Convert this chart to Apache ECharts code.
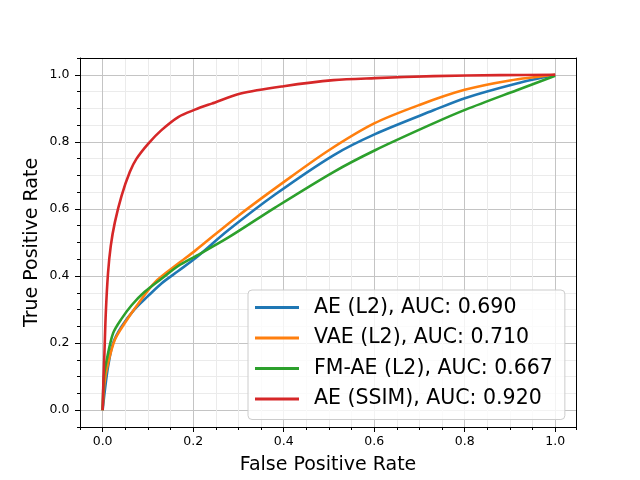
<!DOCTYPE html>
<html>
<head>
    <meta charset="UTF-8">
    <title>ROC curves</title>
    <script src="https://cdn.jsdelivr.net/npm/echarts@6/dist/echarts.min.js"></script>
    <style>
        html, body { margin: 0; padding: 0; background: #fff; }
        #chart { width: 640px; height: 480px; }
    </style>
</head>
<body>
<div id="chart"></div>
<script>
    // ROC points [fpr, tpr]
    var aeL2 = [[0, 0], [0.005, 0.06], [0.012, 0.13], [0.023, 0.2], [0.042, 0.25], [0.07, 0.3],
        [0.1, 0.34], [0.13, 0.378], [0.167, 0.415], [0.204, 0.452], [0.278, 0.537], [0.381, 0.643],
        [0.51, 0.76], [0.602, 0.823], [0.731, 0.894], [0.802, 0.931], [0.915, 0.974], [1, 1]];
    var vaeL2 = [[0, 0], [0.004, 0.08], [0.012, 0.14], [0.027, 0.21], [0.049, 0.26], [0.079, 0.318],
        [0.116, 0.382], [0.167, 0.437], [0.204, 0.475], [0.3, 0.58], [0.4, 0.68], [0.5, 0.775],
        [0.6, 0.855], [0.7, 0.91], [0.8, 0.955], [0.9, 0.983], [1, 1]];
    var fmAeL2 = [[0, 0], [0.003, 0.1], [0.009, 0.15], [0.023, 0.229], [0.042, 0.273], [0.064, 0.313],
        [0.093, 0.353], [0.13, 0.392], [0.167, 0.43], [0.204, 0.458], [0.278, 0.515], [0.381, 0.604],
        [0.51, 0.71], [0.602, 0.775], [0.731, 0.855], [0.802, 0.896], [0.915, 0.954], [1, 0.997]];
    var aeSsim = [[0, 0], [0.002, 0.1], [0.004, 0.17], [0.007, 0.29], [0.012, 0.41], [0.018, 0.49],
        [0.027, 0.56], [0.042, 0.64], [0.06, 0.71], [0.075, 0.75], [0.101, 0.795], [0.13, 0.835],
        [0.167, 0.874], [0.204, 0.896], [0.241, 0.914], [0.305, 0.944], [0.4, 0.966], [0.51, 0.984],
        [0.602, 0.99], [0.731, 0.996], [0.878, 0.999], [1, 1]];

    var seriesNames = ['AE (L2), AUC: 0.690', 'VAE (L2), AUC: 0.710', 'FM-AE (L2), AUC: 0.667', 'AE (SSIM), AUC: 0.920'];
    var seriesColors = ['#1f77b4', '#ff7f0e', '#2ca02c', '#d62728'];
    var majorTicks = [0, 0.2, 0.4, 0.6, 0.8, 1.0];

    var FONT = 'DejaVu Sans';
    var minorGrid = '#ebebeb';
    var majorGrid = '#c4c4c4';

    // data axis: ticks every 0.05 starting at -0.05, every 4th one (from index 1) is a major line
    function dataAxis(min, max) {
        return {
            type: 'value', min: min, max: max, interval: 0.05,
            axisLine: { show: false, onZero: false },
            axisTick: { show: true, length: 3, lineStyle: { color: '#000', width: 1 } },
            axisLabel: { show: false },
            splitLine: { show: true, lineStyle: { color: [minorGrid, majorGrid, minorGrid, minorGrid], width: 1 } }
        };
    }

    // label axis: major ticks and labels only, drawn over the grid
    function labelAxis(min, max, pos, name, gap, margin) {
        return {
            type: 'value', min: min, max: max, position: pos, z: 5,
            axisLine: { show: true, onZero: false, lineStyle: { color: '#000', width: 1 } },
            axisTick: { show: true, length: 5, customValues: majorTicks, lineStyle: { color: '#000', width: 1 } },
            axisLabel: {
                customValues: majorTicks, margin: margin, color: '#000',
                fontFamily: FONT, fontSize: 12.5,
                formatter: function (v) { return v.toFixed(1); }
            },
            splitLine: { show: false },
            name: name, nameLocation: 'middle', nameGap: gap, nameMoveOverlap: false,
            nameTextStyle: { fontFamily: FONT, fontSize: 19, color: '#000' }
        };
    }

    function borderAxis(min, max, pos) {
        return {
            type: 'value', min: min, max: max, position: pos, z: 5,
            axisLine: { show: true, onZero: false, lineStyle: { color: '#000', width: 1 } },
            axisTick: { show: false }, axisLabel: { show: false }, splitLine: { show: false }
        };
    }

    var xMin = -0.05, xMax = 1.046, yMin = -0.05, yMax = 1.05;

    var allData = [aeL2, vaeL2, fmAeL2, aeSsim];
    var series = allData.map(function (d, i) {
        return {
            type: 'line', name: seriesNames[i], data: d,
            xAxisIndex: 0, yAxisIndex: 0,
            symbol: 'none', showSymbol: false,
            smooth: 0.3,
            lineStyle: { width: 2.6, color: seriesColors[i] },
            itemStyle: { color: seriesColors[i] }
        };
    });

    var option = {
        animation: false,
        backgroundColor: '#fff',
        grid: { left: 80, right: 64, top: 58, bottom: 53, containLabel: false },
        xAxis: [
            dataAxis(xMin, xMax),
            labelAxis(xMin, xMax, 'bottom', 'False Positive Rate', 29, 8),
            borderAxis(xMin, xMax, 'top')
        ],
        yAxis: [
            dataAxis(yMin, yMax),
            labelAxis(yMin, yMax, 'left', 'True Positive Rate', 38, 10.5),
            borderAxis(yMin, yMax, 'right')
        ],
        legend: {
            orient: 'vertical', left: 248, top: 290,
            padding: [7, 12, 10, 7],
            icon: 'rect',
            itemWidth: 44, itemHeight: 3, itemGap: 9.5,
            backgroundColor: 'rgba(255,255,255,0.8)',
            borderColor: '#cccccc', borderWidth: 1, borderRadius: 4,
            textStyle: { fontFamily: FONT, fontSize: 20.5, color: '#000', lineHeight: 20, padding: [0, 0, 0, 10] },
            data: seriesNames
        },
        series: series
    };

    var myChart = echarts.init(document.getElementById('chart'));
    myChart.setOption(option);
</script>
</body>
</html>
